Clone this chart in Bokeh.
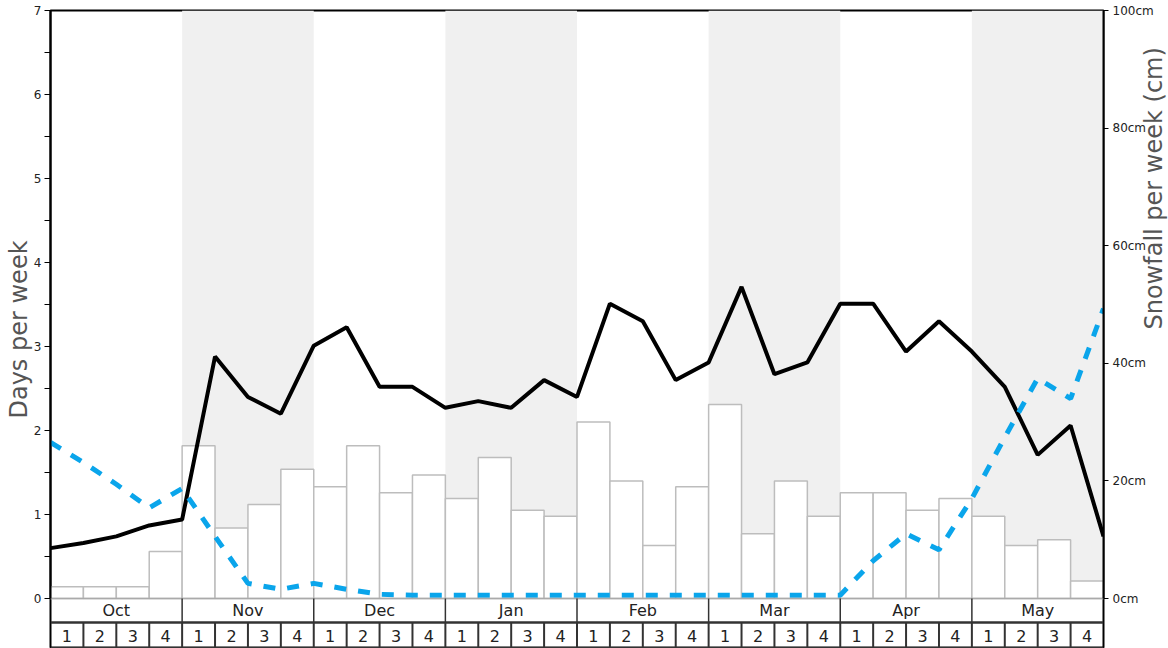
import math
from bokeh.plotting import figure
from bokeh.models import Range1d, LinearAxis, FixedTicker, PrintfTickFormatter, ColumnDataSource
from bokeh.core.properties import value
from bokeh.embed import file_html
from bokeh.resources import INLINE

FONT = "DejaVu Sans"

# ---------------- data ----------------
months = ["Oct", "Nov", "Dec", "Jan", "Feb", "Mar", "Apr", "May"]
week_labels = ["1", "2", "3", "4"]
shaded_months = ["Nov", "Jan", "Mar", "May"]

# snowfall per week (cm) - bars, right axis
snowfall_cm = [2, 2, 2, 8,
               26, 12, 16, 22,
               19, 26, 18, 21,
               17, 24, 15, 14,
               30, 20, 9, 19,
               33, 11, 20, 14,
               18, 18, 15, 17,
               14, 9, 10, 3]

# snow days per week - black line (points at week edges)
snow_days = [0.60, 0.66, 0.74, 0.87, 0.94, 2.88, 2.40, 2.20, 3.01, 3.23, 2.52,
             2.52, 2.27, 2.35, 2.27, 2.60, 2.40, 3.51, 3.30, 2.60, 2.81, 3.71,
             2.67, 2.81, 3.51, 3.51, 2.94, 3.30, 2.94, 2.52, 1.71, 2.06, 0.74]

# rain days per week - blue dashed line
rain_days = [1.86, 1.62, 1.36, 1.08, 1.31, 0.74, 0.18, 0.11, 0.18, 0.11, 0.05,
             0.04, 0.04, 0.04, 0.04, 0.04, 0.04, 0.04, 0.04, 0.04, 0.04, 0.04,
             0.04, 0.04, 0.04, 0.45, 0.77, 0.58, 1.19, 1.92, 2.62, 2.38, 3.45]

left_ticks = [0, 1, 2, 3, 4, 5, 6, 7]
left_minor = [0.5, 1.5, 2.5, 3.5, 4.5, 5.5, 6.5]
right_ticks = [0, 20, 40, 60, 80, 100]

DAYS_MAX = 7
CM_MAX = 100
ROW_MONTH = -0.2857   # bottom of the month row (days units)
ROW_BOTTOM = -0.595   # bottom of the week row

n_weeks = len(snowfall_cm)

p = figure(width=1190, height=648,
           x_range=Range1d(0, n_weeks), y_range=Range1d(ROW_BOTTOM, DAYS_MAX),
           output_backend="svg", toolbar_location=None,
           x_axis_location=None, y_axis_location=None,
           min_border_left=50, min_border_right=87,
           min_border_top=10, min_border_bottom=0)
p.extra_y_ranges = {"cm": Range1d(ROW_BOTTOM * CM_MAX / DAYS_MAX, CM_MAX)}
p.grid.visible = False
p.outline_line_color = "black"
p.outline_line_width = 2
p.background_fill_color = "white"
p.border_fill_color = "white"

# axes
ax_l = LinearAxis(ticker=FixedTicker(ticks=left_ticks, minor_ticks=left_minor),
                  axis_label="Days per week", bounds=(0, DAYS_MAX))
ax_l.axis_line_width = 2
ax_l.axis_line_color = "black"
ax_l.major_tick_out = 6
ax_l.major_tick_in = 0
ax_l.minor_tick_out = 6
ax_l.minor_tick_in = 0
ax_l.major_tick_line_color = "black"
ax_l.minor_tick_line_color = "black"
ax_l.major_label_text_font = FONT
ax_l.major_label_text_font_size = "12px"
ax_l.major_label_text_color = "#222222"
ax_l.major_label_standoff = 3
ax_l.axis_label_text_font = FONT
ax_l.axis_label_text_font_size = "24px"
ax_l.axis_label_text_font_style = "normal"
ax_l.axis_label_text_color = "#555555"
ax_l.axis_label_standoff = -2
p.add_layout(ax_l, "left")

ax_r = LinearAxis(y_range_name="cm", ticker=FixedTicker(ticks=right_ticks, minor_ticks=[]),
                  formatter=PrintfTickFormatter(format="%dcm"),
                  axis_label="Snowfall per week (cm)", bounds=(0, CM_MAX))
ax_r.axis_line_width = 2
ax_r.axis_line_color = "black"
ax_r.major_tick_out = 5
ax_r.major_tick_in = 0
ax_r.major_tick_line_color = "black"
ax_r.major_label_text_font = FONT
ax_r.major_label_text_font_size = "12px"
ax_r.major_label_text_color = "#222222"
ax_r.major_label_standoff = 4
ax_r.axis_label_text_font = FONT
ax_r.axis_label_text_font_size = "24px"
ax_r.axis_label_text_font_style = "normal"
ax_r.axis_label_text_color = "#555555"
ax_r.axis_label_standoff = -3
try:
    ax_r.axis_label_orientation = math.pi / 2
except Exception:
    pass
p.add_layout(ax_r, "right")

# month shading
sh_left = [months.index(m) * 4 for m in shaded_months]
sh_right = [x + 4 for x in sh_left]
p.quad(left=sh_left, right=sh_right, bottom=0, top=DAYS_MAX,
       fill_color="#f0f0f0", line_color=None)

# bars
bar_src = ColumnDataSource(dict(left=list(range(n_weeks)),
                                right=[i + 1 for i in range(n_weeks)],
                                top=snowfall_cm))
p.quad(left="left", right="right", bottom=0, top="top", source=bar_src,
       y_range_name="cm", fill_color="white", line_color="#bdbdbd", line_width=1.5)

# lines
xs = list(range(len(snow_days)))
p.line(xs, snow_days, line_color="black", line_width=4)
p.line(xs, rain_days, line_color="#0aa5eb", line_width=5, line_dash="12 12")

# bottom bands (month row, week row)
p.segment(x0=[0], y0=[0], x1=[n_weeks], y1=[0], line_color="#aaaaaa", line_width=1.5)
month_div = [4 * i for i in range(1, len(months))]
p.segment(x0=month_div, y0=[ROW_MONTH] * len(month_div), x1=month_div,
          y1=[0] * len(month_div), line_color="#333333", line_width=1.5)
week_div = list(range(1, n_weeks))
p.segment(x0=week_div, y0=[ROW_BOTTOM] * len(week_div), x1=week_div,
          y1=[ROW_MONTH] * len(week_div), line_color="#333333", line_width=2)
p.segment(x0=[0], y0=[ROW_MONTH], x1=[n_weeks], y1=[ROW_MONTH],
          line_color="#333333", line_width=2.5)
p.segment(x0=[0], y0=[ROW_BOTTOM + 0.01], x1=[n_weeks], y1=[ROW_BOTTOM + 0.01],
          line_color="#333333", line_width=1.5)

p.text(x=[4 * i + 2 for i in range(len(months))], y=[ROW_MONTH / 2 - 0.004] * len(months),
       text=months, text_align="center", text_baseline="middle",
       text_font=value(FONT), text_font_size="16px", text_color="#222222")
wk_x = [i + 0.5 for i in range(n_weeks)]
wk_t = [week_labels[i % 4] for i in range(n_weeks)]
p.text(x=wk_x, y=[(ROW_MONTH + ROW_BOTTOM) / 2] * n_weeks, text=wk_t,
       text_align="center", text_baseline="middle",
       text_font=value(FONT), text_font_size="16px", text_color="#222222")

open("out.html", "w").write(file_html(p, INLINE))
